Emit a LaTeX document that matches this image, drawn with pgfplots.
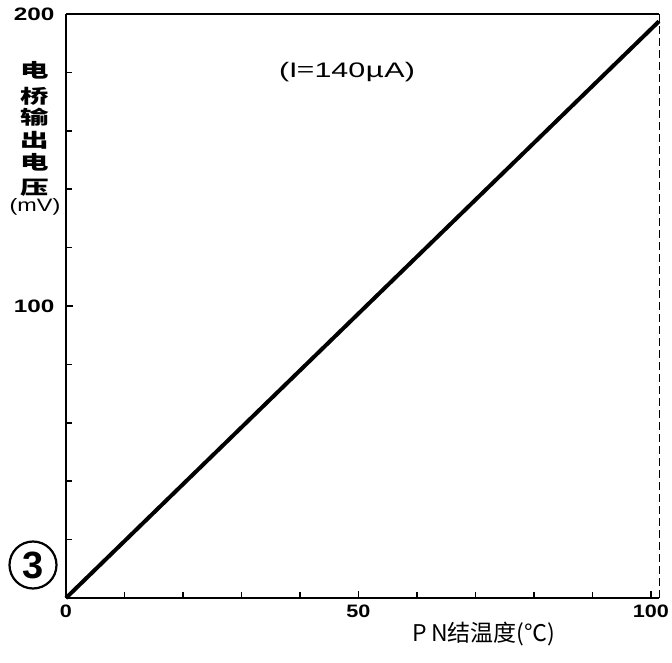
\documentclass[border=0pt]{standalone}
\usepackage{pgfplots}
\pgfplotsset{compat=1.18}
\usepackage{fontspec}
\setmainfont{Liberation Sans}
\newfontfamily\cjk{Noto Sans CJK SC}
\begin{document}
\begin{tikzpicture}[x=1pt,y=1pt]
\path[use as bounding box] (0,0) rectangle (672,662);
\begin{axis}[
  at={(66pt,64pt)}, anchor=south west,
  scale only axis, width=593pt, height=584pt,
  xmin=0, xmax=101.4, ymin=0, ymax=200,
  axis lines=left, axis line style={line width=2.6pt, -},
  xtick={0,50,100}, minor xtick={10,20,30,40,60,70,80,90},
  ytick={100,200}, minor ytick={20,40,60,80,120,140,160,180},
  yticklabels={100,200},
  tick style={line width=1.5pt, black},
  major tick length=7pt, minor tick length=6pt,
  tick align=inside,
  xticklabel style={font=\bfseries\fontsize{18}{18}\selectfont, xscale=1.2, yshift=-3pt},
  yticklabel style={font=\bfseries\fontsize{18}{18}\selectfont, xscale=1.35, xshift=-5pt},
  /pgf/number format/assume math mode=true,
  clip=false,
]
\addplot[line width=4pt, black] coordinates {(0,0) (101.4,197.5)};
\draw[line width=2pt] (rel axis cs:0,1) -- (rel axis cs:1,1);
\draw[line width=1pt, dash pattern=on 8pt off 4pt] (rel axis cs:1,1) -- (rel axis cs:1,0);
\end{axis}
% y label stacked characters
\begin{scope}[every node/.style={font=\cjk\bfseries\fontsize{19}{19}\selectfont, xscale=1.5}]
\node at (35,592) {电};
\node at (35,566) {桥};
\node at (35,545) {输};
\node at (35,522) {出};
\node at (35,500) {电};
\node at (35,474) {压};
\end{scope}
\node[font=\fontsize{18}{18}\selectfont, xscale=1.3] at (35,455) {(mV)};
% annotation
\node[font=\fontsize{21}{21}\selectfont, xscale=1.45] at (347,590) {(I{\cjk =}140{\cjk μ}A)};
% x label
\node[font=\cjk\fontsize{23}{23}\selectfont] at (484,28) {P\,N结温度(℃)};
% circled 3
\draw[line width=2.2pt] (33,97) circle (23.5);
\node[font=\fontsize{38}{38}\selectfont] at (33,97) {\textbf{3}};
\end{tikzpicture}
\end{document}
